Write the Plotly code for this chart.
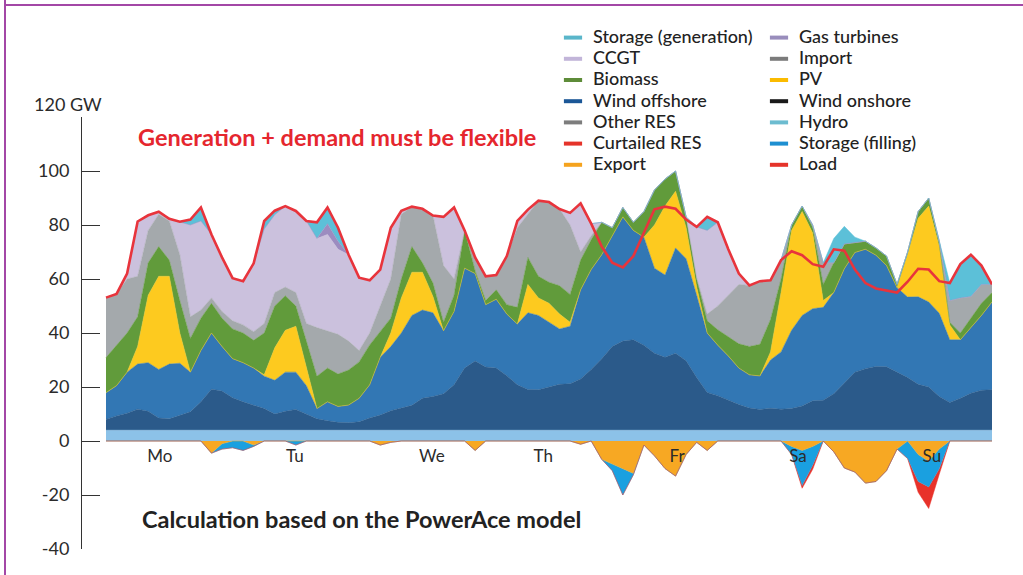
import plotly.graph_objects as go

# ---------------- data (hours 0..168 in 2 h steps) ----------------
hours = list(range(0, 169, 2))

load = [53.1, 54.5, 62, 81.3, 83.6, 84.9, 82.3, 81.2, 82, 86.5, 76.5, 68,
        60.3, 59.2, 65.8, 81.5, 85.3, 87, 85.2, 81.5, 81, 86.5, 79, 69,
        60.5, 59.5, 63.5, 79, 85.3, 86.8, 86, 83.5, 83, 86.5, 78, 68,
        61, 61.5, 68.5, 81.5, 85.7, 89, 88.5, 85.9, 84.5, 88, 80.5, 72,
        66, 64.3, 68.5, 77, 85.8, 86.8, 86, 82, 79.3, 83, 81, 71,
        62, 57.6, 59.2, 59.5, 67, 70.3, 68.8, 65.5, 64.5, 71, 70.5, 63.5,
        58.5, 56.5, 55.8, 55, 59, 63.8, 63.5, 59.2, 58.5, 65.5, 69, 65,
        58]

hydro = [4, 4, 4, 4, 4, 4, 4, 4, 4, 4, 4, 4,
         4, 4, 4, 4, 4, 4, 4, 4, 4, 4, 4, 4,
         4, 4, 4, 4, 4, 4, 4, 4, 4, 4, 4, 4,
         4, 4, 4, 4, 4, 4, 4, 4, 4, 4, 4, 4,
         4, 4, 4, 4, 4, 4, 4, 4, 4, 4, 4, 4,
         4, 4, 4, 4, 4, 4, 4, 4, 4, 4, 4, 4,
         4, 4, 4, 4, 4, 4, 4, 4, 4, 4, 4, 4,
         4]

wind_offshore = [4.0, 5.3, 6.3, 7.8, 7.0, 4.5, 4.2, 5.5, 6.8, 10.5, 15.2, 14.5,
                 12.0, 10.5, 9.3, 8.0, 6.0, 7.0, 7.7, 6.0, 4.2, 3.5, 2.9, 2.8,
                 3.1, 4.5, 5.6, 7.2, 8.3, 9.2, 11.8, 12.5, 13.5, 16.8, 23.0, 25.6,
                 23.4, 23.0, 20.2, 16.8, 15.1, 15.0, 16.0, 17.0, 17.2, 19.0, 22.5, 26.5,
                 31.0, 33.0, 33.5, 31.5, 28.5, 27.0, 28.5, 25.7, 19.5, 14.0, 12.8, 11.0,
                 9.5, 8.2, 7.7, 8.1, 7.8, 8.0, 9.0, 10.9, 11.1, 13.5, 17.5, 21.5,
                 22.8, 23.6, 23.5, 21.5, 19.5, 17.0, 16.0, 12.5, 10.3, 11.8, 13.7, 14.8,
                 15.0]

wind_onshore = [9.9, 11.2, 15.2, 16.7, 18.0, 18.0, 20.3, 19.3, 14.7, 19.0, 20.8, 16.5,
                14.5, 14.5, 13.7, 12.0, 12.5, 14.5, 13.8, 10.5, 3.8, 7.0, 5.9, 6.5,
                8.7, 12.3, 21.4, 23.8, 27.7, 33.3, 32.7, 31.0, 23.3, 27.2, 37.0, 32.4,
                23.1, 25.5, 22.8, 22.5, 28.4, 27.5, 24.0, 20.5, 21.3, 33.0, 37.0, 38.5,
                41.0, 46.0, 40.5, 40.0, 31.5, 30.5, 39.0, 37.8, 30.5, 22.0, 18.7, 16.5,
                13.5, 12.3, 12.4, 17.9, 21.2, 29.0, 33.5, 34.1, 34.4, 37.5, 42.3, 44.3,
                44.2, 41.2, 37.5, 31.3, 29.8, 32.4, 31.5, 30.8, 23.2, 21.7, 24.3, 27.7,
                32.5]

pv = [0, 0, 0, 6.5, 25.0, 34.5, 32.5, 11.2, 0, 0, 0, 0,
      0, 0, 0, 0.5, 12.0, 15.5, 17.0, 6.5, 0, 0, 0, 0,
      0, 0, 0, 5.0, 13.0, 16.0, 14.0, 6.0, 0, 0, 0, 0,
      0, 0, 0, 0, 10.5, 6.5, 7.0, 5.5, 1.5, 0, 0, 0,
      0, 0, 0, 0, 16.0, 25.5, 21.0, 11.5, 3.0, 0, 0, 0,
      0, 0, 0, 3.0, 22.0, 37.0, 38.5, 28.0, 2.5, 0, 0, 0,
      0, 0, 0, 0, 15.7, 29.1, 35.5, 24.7, 5.5, 0, 0, 0,
      0]

biomass = [13.0, 15.0, 14.5, 11.0, 12.0, 11.0, 6.0, 12.0, 12.5, 12.0, 11.0, 10.5,
           11.0, 11.0, 10.3, 15.5, 15.5, 12.8, 7.5, 10.0, 12.0, 12.5, 12.0, 13.0,
           13.5, 14.8, 9.7, 5.5, 7.0, 9.5, 3.5, 5.0, 3.2, 6.0, 14.0, 1.0,
           1.5, 3.5, 3.5, 6.2, 10.0, 8.0, 7.8, 10.5, 10.3, 11.0, 11.0, 12.0,
           3.0, 3.5, 3.0, 9.5, 13.0, 10.0, 7.5, 4.0, 3.0, 4.5, 5.7, 7.2,
           9.0, 10.5, 11.7, 12.0, 5.0, 2.0, 2.0, 2.0, 6.0, 11.0, 9.2, 3.7,
           3.0, 2.7, 3.5, 1.2, 1.0, 2.5, 3.0, 1.0, 1.0, 2.5, 3.5, 4.5,
           3.5]

imports = [22.2, 19.0, 20.0, 15.0, 12.0, 12.0, 14.5, 17.0, 8.0, 3.0, 2.0, 2.5,
           3.0, 3.0, 3.2, 3.5, 5.0, 3.2, 5.0, 6.5, 18.0, 13.8, 14.7, 10.7,
           4.2, 4.4, 9.3, 14.5, 24.0, 14.8, 20.0, 25.0, 21.0, 6.0, 0, 5.0,
           9.0, 5.5, 18.0, 29.5, 16.0, 28.0, 29.7, 28.4, 25.7, 3.0, 1.5, 0,
           0, 0, 0, 0, 0, 0, 0, 0, 0.5, 2.5, 8.8, 15.3,
           22.0, 22.6, 23.4, 14.5, 7.0, 0, 0, 1.0, 8.0, 0, 0, 0,
           0, 0, 0, 0, 0, 0, 0, 1.0, 8.0, 13.0, 8.0, 7.0,
           3.0]

ccgt = [0, 0, 2.0, 20.3, 5.6, 0.9, 0.8, 12.2, 34.0, 33.0, 23.5, 20.0,
        15.8, 16.2, 25.3, 35.0, 28.8, 30.0, 30.2, 38.0, 33.0, 35.7, 31.5, 32.0,
        27.0, 19.5, 13.5, 19.0, 1.3, 0, 0, 0, 18.0, 26.5, 0, 0,
        0, 0, 0, 2.5, 1.7, 0, 0, 0, 4.5, 18.0, 4.5, 0,
        0, 0, 0, 0, 0, 0, 0, 0, 18.8, 31.0, 31.0, 17.0,
        4.0, 0, 0, 0, 0, 0, 0, 0, 0, 0, 0, 0,
        0, 0, 0, 0, 0, 0, 0, 0, 0, 0, 0, 0,
        0]

gas_turbines = [0, 0, 0, 0, 0, 0, 0, 0, 0, 0, 0, 0,
                0, 0, 0, 0, 0, 0, 0, 0, 0, 4.0, 3.0, 0,
                0, 0, 0, 0, 0, 0, 0, 0, 0, 0, 0, 0,
                0, 0, 0, 0, 0, 0, 0, 0, 0, 0, 0, 0,
                0, 0, 0, 0, 0, 0, 0, 0, 0, 0, 0, 0,
                0, 0, 0, 0, 0, 0, 0, 0, 0, 0, 0, 0,
                0, 0, 0, 0, 0, 0, 0, 0, 0, 0, 0, 0,
                0]

storage_gen = [0, 0, 0, 0, 0, 0, 0, 0, 2.0, 5.0, 0, 0,
               0, 0, 0, 3.0, 1.5, 0, 0, 0, 6.0, 6.0, 5.0, 0,
               0, 0, 0, 0, 0, 0, 0, 0, 0, 0, 0, 0,
               0, 0, 0, 0, 0, 0, 0, 0, 0, 0, 0, 0,
               0, 0, 0, 0, 0, 0, 0, 0, 0, 5.0, 0, 0,
               0, 0, 0, 0, 0, 0, 0, 0, 0, 9.0, 6.5, 2.0,
               0, 0, 0, 0, 0, 0, 0, 0, 6.5, 12.5, 15.5, 7.0,
               0]

export = [0, 0, 0, 0, 0, 0, 0, 0, 0, 0, -4.5, -1.0,
          0, 0, -1.5, 0, 0, 0, 0, 0, 0, 0, 0, 0,
          0, 0, -1.5, -0.5, 0, 0, 0, 0, 0, 0, 0, -3.5,
          0, 0, 0, 0, 0, 0, 0, 0, 0, -1.2, 0, -6.8,
          -8.5, -10.0, -12.0, -1.5, -5.5, -10.2, -13.0, -5.0, -0.5, -3.5, 0, 0,
          0, 0, 0, 0, 0, -2.0, -3.5, -2.0, 0, -4.0, -10.0, -11.5,
          -15.6, -15.0, -11.0, -3.0, 0, -5.0, -7.5, -3.0, 0, 0, 0, 0,
          0]

storage_filling = [0, 0, 0, 0, 0, 0, 0, 0, 0, 0, 0, -2.0,
                   -2.5, -3.5, -0.5, 0, 0, 0, -1.5, 0, 0, 0, 0, 0,
                   0, 0, 0, 0, 0, 0, 0, 0, 0, 0, 0, 0,
                   0, 0, 0, 0, 0, 0, 0, 0, 0, 0, 0, 0,
                   -2.5, -10.0, -0.5, 0, 0, 0, 0, 0, 0, 0, 0, 0,
                   0, 0, 0, 0, 0, -3.0, -13.0, -7.0, 0, 0, 0, 0,
                   0, 0, 0, 0, -6.5, -10.0, -9.5, -7.3, 0, 0, 0, 0,
                   0]

curtailed = [0, 0, 0, 0, 0, 0, 0, 0, 0, 0, 0, 0,
             0, 0, 0, 0, 0, 0, 0, 0, 0, 0, 0, 0,
             0, 0, 0, 0, 0, 0, 0, 0, 0, 0, 0, 0,
             0, 0, 0, 0, 0, 0, 0, 0, 0, 0, 0, 0,
             0, 0, 0, 0, 0, 0, 0, 0, 0, 0, 0, 0,
             0, 0, 0, 0, 0, 0, -1.0, -1.5, 0, 0, 0, 0,
             0, 0, 0, 0, 0, -4.0, -8.0, -2.0, 0, 0, 0, 0,
             0]

day_labels = ["Mo", "Tu", "We", "Th", "Fr", "Sa", "Su"]
day_label_hours = [10.2, 35.8, 61.8, 82.9, 108.3, 131.2, 156.6]

y_ticks = [-40, -20, 0, 20, 40, 60, 80, 100, 120]
y_ticktext = ["-40", "-20", "0", "20", "40", "60", "80", "100", ""]

legend_col1 = ["Storage (generation)", "CCGT", "Biomass", "Wind offshore",
               "Other RES", "Curtailed RES", "Export"]
legend_col1_colors = ["#5ab6ca", "#c2b5d9", "#5e8c39", "#1b5797",
                      "#7d7d7d", "#e5332a", "#f5a31e"]
legend_col2 = ["Gas turbines", "Import", "PV", "Wind onshore",
               "Hydro", "Storage (filling)", "Load"]
legend_col2_colors = ["#998dbc", "#7b7b7b", "#fbbb00", "#1a1a1a",
                      "#6cbcd0", "#1d8fd1", "#e5332a"]

# ---------------- figure ----------------
FONT = "Lato"
fig = go.Figure()

pos_series = [
    (hydro, "#8cc2e8"),
    (wind_offshore, "#2b5a8a"),
    (wind_onshore, "#3277b4"),
    (pv, "#fdca1f"),
    (biomass, "#619b3b"),
    (imports, "#a4a9ac"),
    (ccgt, "#cbc1dd"),
    (gas_turbines, "#9c8cc0"),
    (storage_gen, "#5cc0d8"),
]
for vals, col in pos_series:
    fig.add_trace(go.Scatter(x=hours, y=vals, stackgroup="pos", mode="lines",
                             line=dict(width=0.5, color=col), fillcolor=col,
                             showlegend=False, hoverinfo="skip"))

neg_series = [
    (export, "#f7a823"),
    (storage_filling, "#1aa0e0"),
    (curtailed, "#e8322a"),
]
for vals, col in neg_series:
    fig.add_trace(go.Scatter(x=hours, y=vals, stackgroup="neg", mode="lines",
                             line=dict(width=0.5, color=col), fillcolor=col,
                             showlegend=False, hoverinfo="skip"))

fig.add_trace(go.Scatter(x=hours, y=load, mode="lines",
                         line=dict(width=2.6, color="#e8343c"),
                         showlegend=False, hoverinfo="skip"))

# legend entries (two columns)
for names, cols, lg in ((legend_col1, legend_col1_colors, "legend"),
                        (legend_col2, legend_col2_colors, "legend2")):
    for n, c in zip(names, cols):
        fig.add_trace(go.Scatter(
            x=[None], y=[None], mode="markers",
            marker=dict(symbol="line-ew", size=13, color=c,
                        line=dict(width=4, color=c)),
            name='<span style="font-size:18px">' + n + "</span>",
            legend=lg, showlegend=True))

W, H = 1023, 575
L, R, T, B = 82, 31, 117, 26
PW, PH = W - L - R, H - T - B


def px(x):
    return (x - L) / PW


def py(y):
    return (H - B - y) / PH


legend_common = dict(xanchor="left", yanchor="top", bgcolor="rgba(0,0,0,0)",
                     font=dict(family=FONT, size=14, color="#222222", weight=500),
                     itemsizing="trace", tracegroupgap=0, traceorder="normal")

fig.update_layout(
    width=W, height=H,
    margin=dict(l=L, r=R, t=T, b=B),
    paper_bgcolor="white", plot_bgcolor="white",
    font=dict(family=FONT, color="#2b2b2b"),
    showlegend=True,
    legend=dict(x=px(553), y=py(22), **legend_common),
    legend2=dict(x=px(759), y=py(22), **legend_common),
    xaxis=dict(range=[-4.55, 168], showgrid=False, zeroline=False,
               showline=False, ticks="", tickmode="array",
               tickvals=day_label_hours, ticktext=day_labels,
               tickfont=dict(family=FONT, size=17, color="#2b2b2b"),
               anchor="free", position=0.25, ticklabelstandoff=3),
    yaxis=dict(range=[-40, 120], showgrid=False, zeroline=False,
               showline=True, linecolor="#333333", linewidth=1,
               ticks="inside", ticklen=18, tickwidth=1, tickcolor="#333333",
               tickmode="array", tickvals=y_ticks, ticktext=y_ticktext,
               tickfont=dict(family=FONT, size=18, color="#2b2b2b"),
               ticklabelstandoff=8),
    annotations=[
        dict(text="Generation + demand must be flexible", xref="paper",
             yref="paper", x=px(337), y=py(137), xanchor="center",
             yanchor="middle", showarrow=False,
             font=dict(family=FONT, size=23.5, color="#e5262e", weight="bold")),
        dict(text="Calculation based on the PowerAce model", xref="paper",
             yref="paper", x=px(361), y=py(519), xanchor="center",
             yanchor="middle", showarrow=False,
             font=dict(family=FONT, size=23.5, color="#222222", weight="bold")),
        dict(text="120 GW", xref="paper", yref="paper", x=px(104), y=py(104),
             xanchor="right", yanchor="middle", showarrow=False,
             font=dict(family=FONT, size=18, color="#2b2b2b")),
    ],
    shapes=[
        dict(type="line", xref="paper", yref="paper", x0=px(5), x1=px(5),
             y0=py(0), y1=py(H), line=dict(color="#a347a6", width=2)),
        dict(type="line", xref="paper", yref="paper", x0=px(4), x1=px(W),
             y0=py(5), y1=py(5), line=dict(color="#a347a6", width=2)),
    ],
)

fig.write_html("out.html", config={"displayModeBar": False},
               post_script="document.body.style.margin='0';")
